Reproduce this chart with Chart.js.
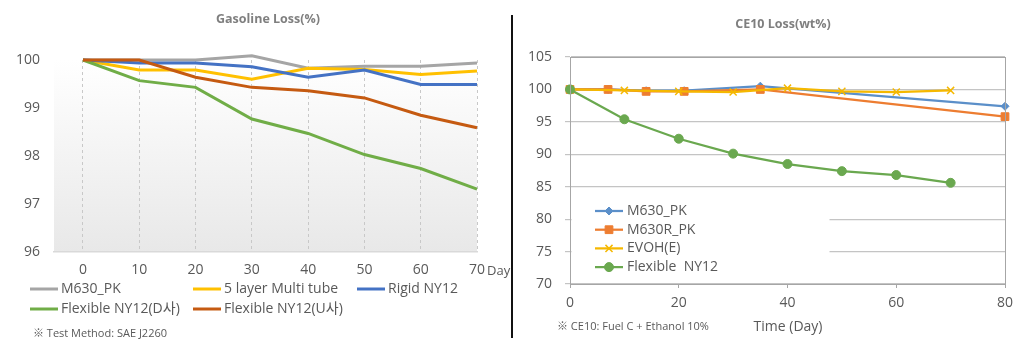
<!DOCTYPE html>
<html>
<head>
<meta charset="utf-8">
<script src="https://cdn.jsdelivr.net/npm/chart.js@4.4.1/dist/chart.umd.min.js"></script>
<style>
  html, body { margin: 0; padding: 0; background: #fff; }
  body { width: 1024px; height: 347px; position: relative; overflow: hidden; }
  #gasChart { position: absolute; left: 0; top: 0; }
  #ceChart { position: absolute; left: 512px; top: 0; }
  .divider { position: absolute; left: 511px; top: 15px; width: 2px; height: 323px; background: #111; }
</style>
</head>
<body>
<canvas id="gasChart" width="512" height="347"></canvas>
<canvas id="ceChart" width="512" height="347"></canvas>
<div class="divider"></div>
<script>
const FONT = '"Open Sans", "Noto Sans CJK KR", sans-serif'
Chart.defaults.font.family = FONT
Chart.defaults.color = '#595959'

// Gasoline loss (%) - left chart
const gasDays = [0, 10, 20, 30, 40, 50, 60, 70]
const gasLabels = ['M630_PK', '5 layer Multi tube', 'Rigid NY12', 'Flexible NY12(D사)', 'Flexible NY12(U사)']
const gasM630 = [100, 100, 100, 100.09, 99.83, 99.87, 99.87, 99.94]
const gasMulti = [100, 99.79, 99.79, 99.6, 99.83, 99.8, 99.7, 99.77]
const gasRigid = [100, 99.94, 99.94, 99.86, 99.64, 99.79, 99.49, 99.49]
const gasFlexD = [100, 99.57, 99.43, 98.77, 98.47, 98.03, 97.74, 97.31]
const gasFlexU = [100, 100, 99.64, 99.43, 99.36, 99.21, 98.85, 98.59]
const gasYTicks = [96, 97, 98, 99, 100]

// CE10 loss (wt%) - right chart
const ceLabels = ['M630_PK', 'M630R_PK', 'EVOH(E)', 'Flexible  NY12']
const ceM630Days = [0, 7, 14, 21, 35, 80]
const ceM630 = [100, 100, 99.8, 99.8, 100.5, 97.4]
const ceM630rDays = [0, 7, 14, 21, 35, 80]
const ceM630r = [100, 100, 99.7, 99.7, 100, 95.8]
const ceEvohDays = [0, 10, 20, 30, 40, 50, 60, 70]
const ceEvoh = [100, 99.85, 99.7, 99.6, 100.2, 99.7, 99.6, 99.85]
const ceFlexDays = [0, 10, 20, 30, 40, 50, 60, 70]
const ceFlex = [100, 95.4, 92.4, 90.1, 88.5, 87.4, 86.8, 85.6]

const gasColors = ['#a5a5a5', '#ffc000', '#4472c4', '#70ad47', '#c55a11']
const ceColors = ['#5b8fc9', '#ed7d31', '#f5b800', '#6aa84f']

function points(days, values) {
  return days.map((d, i) => ({ x: d, y: values[i] }))
}

const gasSeries = [gasM630, gasMulti, gasRigid, gasFlexD, gasFlexU]

const gasDecor = {
  id: 'gasDecor',
  beforeDraw(chart) {
    const { ctx, chartArea: a } = chart
    const g = ctx.createLinearGradient(0, a.top, 0, a.bottom)
    g.addColorStop(0, '#ffffff')
    g.addColorStop(1, '#e8e8e8')
    ctx.save()
    ctx.fillStyle = g
    ctx.fillRect(a.left, a.top, a.right - a.left, a.bottom - a.top)
    ctx.restore()
  },
  afterDraw(chart) {
    const ctx = chart.ctx
    ctx.save()
    ctx.textBaseline = 'middle'
    ctx.fillStyle = '#7f7f7f'
    ctx.font = 'bold 12.5px ' + FONT
    ctx.textAlign = 'center'
    ctx.fillText('Gasoline Loss(%)', 268, 19)

    ctx.fillStyle = '#595959'
    ctx.font = '13px ' + FONT
    ctx.textAlign = 'left'
    ctx.fillText('Day', 487, 271)

    // legend, 3 per row
    ctx.font = '14px ' + FONT
    const cols = [30, 193, 357]
    chart.data.datasets.forEach((ds, i) => {
      const x = cols[i % 3]
      const y = 289 + Math.floor(i / 3) * 20
      ctx.strokeStyle = ds.borderColor
      ctx.lineWidth = 3
      ctx.beginPath()
      ctx.moveTo(x, y)
      ctx.lineTo(x + 28, y)
      ctx.stroke()
      ctx.fillText(ds.label, x + 31, y)
    })

    ctx.font = '11px ' + FONT
    ctx.fillText('※ Test Method: SAE J2260', 33, 334)
    ctx.restore()
  }
}

new Chart(document.getElementById('gasChart'), {
  type: 'line',
  data: {
    datasets: gasSeries.map((vals, i) => ({
      label: gasLabels[i],
      data: points(gasDays, vals),
      borderColor: gasColors[i],
      backgroundColor: gasColors[i],
      borderWidth: 3,
      pointRadius: 0,
      tension: 0,
      clip: false,
      order: gasSeries.length - i
    }))
  },
  options: {
    responsive: false,
    animation: false,
    layout: { padding: { left: 0, right: 35, top: 60, bottom: 0 } },
    plugins: { legend: { display: false }, tooltip: { enabled: false } },
    scales: {
      x: {
        type: 'linear',
        min: -5.15,
        max: 70,
        afterBuildTicks: (s) => { s.ticks = gasDays.map(v => ({ value: v })) },
        afterFit: (s) => { s.height = 95 },
        grid: { color: '#c8c8c8', lineWidth: 1, drawTicks: false },
        border: { color: '#d9d9d9', width: 1.5, dash: [3, 3] },
        ticks: { padding: 10, font: { size: 14 }, color: '#595959' }
      },
      y: {
        min: 96,
        max: 100,
        afterBuildTicks: (s) => { s.ticks = gasYTicks.map(v => ({ value: v })) },
        afterFit: (s) => { s.width = 54 },
        grid: { display: false, drawTicks: false, tickLength: 0 },
        border: { display: false },
        ticks: { padding: 14, font: { size: 14 }, color: '#595959' }
      }
    }
  },
  plugins: [gasDecor]
})

const ceData = [
  [ceM630Days, ceM630],
  [ceM630rDays, ceM630r],
  [ceEvohDays, ceEvoh],
  [ceFlexDays, ceFlex]
]
const ceMarkers = [
  { style: 'rectRot', radius: 4 },
  { style: 'rect', radius: 5.5 },
  { style: 'crossRot', radius: 5 },
  { style: 'circle', radius: 4.5 }
]

const ceDecor = {
  id: 'ceDecor',
  afterDraw(chart) {
    const { ctx, chartArea: a } = chart
    ctx.save()
    ctx.strokeStyle = '#a6a6a6'
    ctx.lineWidth = 1
    ctx.strokeRect(a.left + 0.5, a.top + 0.5, a.right - a.left, a.bottom - a.top)

    ctx.textBaseline = 'middle'
    ctx.fillStyle = '#7f7f7f'
    ctx.font = 'bold 12.5px ' + FONT
    ctx.textAlign = 'center'
    ctx.fillText('CE10 Loss(wt%)', 271, 24)

    ctx.fillStyle = '#595959'
    ctx.font = '14px ' + FONT
    ctx.fillText('Time (Day)', 276, 327)

    ctx.textAlign = 'left'
    ctx.font = '11px ' + FONT
    ctx.fillText('※ CE10: Fuel C + Ethanol 10%', 45, 327)

    // legend box inside the plot
    ctx.fillStyle = '#ffffff'
    ctx.fillRect(a.left + 1.5, 195, 258, 82)
    ctx.font = '14px ' + FONT
    chart.data.datasets.forEach((ds, i) => {
      const y = 211 + i * 18.7
      ctx.strokeStyle = ds.borderColor
      ctx.lineWidth = 2.25
      ctx.beginPath()
      ctx.moveTo(83, y)
      ctx.lineTo(111, y)
      ctx.stroke()
      ctx.fillStyle = ds.backgroundColor
      ctx.lineWidth = ds.pointBorderWidth
      Chart.helpers.drawPoint(ctx, { pointStyle: ds.pointStyle, radius: ds.pointRadius, rotation: 0, borderWidth: ds.pointBorderWidth }, 97, y)
      ctx.fillStyle = '#595959'
      ctx.fillText(ds.label, 115, y)
    })
    ctx.restore()
  }
}

new Chart(document.getElementById('ceChart'), {
  type: 'line',
  data: {
    datasets: ceData.map(([days, vals], i) => ({
      label: ceLabels[i],
      data: points(days, vals),
      borderColor: ceColors[i],
      backgroundColor: ceColors[i],
      borderWidth: 2.25,
      pointStyle: ceMarkers[i].style,
      pointRadius: ceMarkers[i].radius,
      pointBorderWidth: i === 2 ? 1.5 : 1,
      pointBackgroundColor: ceColors[i],
      pointBorderColor: ceColors[i],
      tension: 0,
      clip: false,
      order: ceData.length - i
    }))
  },
  options: {
    responsive: false,
    animation: false,
    layout: { padding: { left: 0, right: 19, top: 57, bottom: 0 } },
    plugins: { legend: { display: false }, tooltip: { enabled: false } },
    scales: {
      x: {
        type: 'linear',
        min: 0,
        max: 80,
        ticks: { stepSize: 20, padding: 7, font: { size: 14 }, color: '#595959' },
        afterFit: (s) => { s.height = 63 },
        grid: { drawOnChartArea: false, drawTicks: true, tickLength: 4, color: '#a6a6a6' },
        border: { color: '#a6a6a6' }
      },
      y: {
        min: 70,
        max: 105,
        ticks: { stepSize: 5, padding: 13, font: { size: 14 }, color: '#595959' },
        afterFit: (s) => { s.width = 58 },
        grid: { color: '#c4c4c4', lineWidth: 1.2, tickLength: 5 },
        border: { color: '#a6a6a6' }
      }
    }
  },
  plugins: [ceDecor]
})
</script>
</body>
</html>
